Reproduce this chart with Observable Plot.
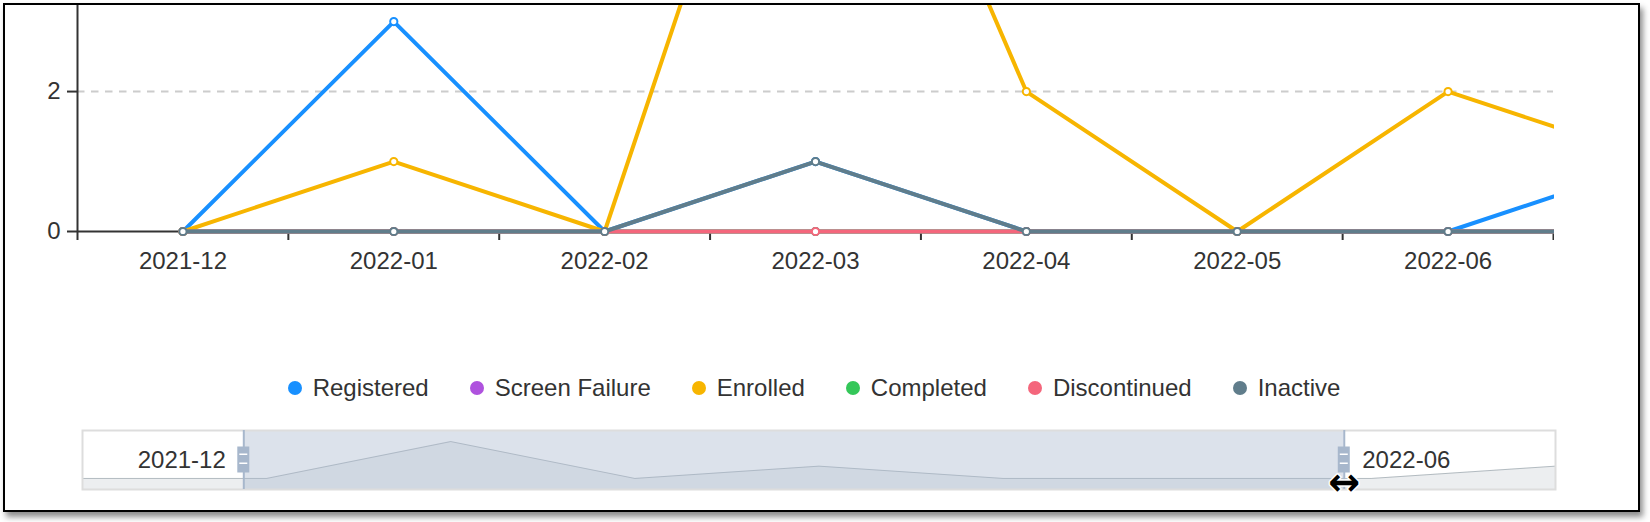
<!DOCTYPE html>
<html><head><meta charset="utf-8">
<script src="https://cdn.jsdelivr.net/npm/d3@7"></script>
<script src="https://cdn.jsdelivr.net/npm/@observablehq/plot@0.6"></script>
<style>
html,body{margin:0;padding:0;background:#fff;width:1650px;height:522px;overflow:hidden;font-family:"Liberation Sans",Arial,Helvetica,sans-serif;}
#frame{position:absolute;left:3px;top:3px;width:1637px;height:509px;box-sizing:border-box;border:2.5px solid #000;box-shadow:3px 5px 6px rgba(0,0,0,0.45);pointer-events:none;z-index:5;}
#main{position:absolute;left:0;top:0;}
#main svg{clip-path:inset(5px 96px 0 0);}
#slider{position:absolute;left:0;top:400px;}
#legend{position:absolute;left:0;top:374px;width:1628px;height:28px;display:flex;justify-content:center;align-items:center;font-size:24px;color:#333;white-space:nowrap;}
.item{display:flex;align-items:center;margin:0 20.5px;}
.dot{width:14px;height:14px;border-radius:50%;margin-right:11px;}
</style></head><body>
<div id="main"></div><div id="legend"></div><div id="slider"></div><div id="frame"></div>
<script>
// ---- data ----
const months = ["2021-11","2021-12","2022-01","2022-02","2022-03","2022-04","2022-05","2022-06","2022-07"];
const seriesNames = ["Registered","Screen Failure","Enrolled","Completed","Discontinued","Inactive"];
const seriesColors = ["#1890ff","#af52de","#f7b500","#34c759","#f4667c","#607d8b"];
const registered    = [0,0,3,0,1,0,0,0,1];
const screenFailure = [0,0,0,0,0,0,0,0,0];
const enrolled      = [0,0,1,0,9,2,0,2,1];
const completed     = [0,0,0,0,0,0,0,0,0];
const discontinued  = [0,0,0,0,0,0,0,0,0];
const inactive      = [0,0,0,0,1,0,0,0,0];
const yTicks = [0, 2];
const yVisibleMax = 3.23;          // top of the cropped value axis
const zoomStartPct = 10.95;        // dataZoom window (percent)
const zoomEndPct = 85.66;

const seriesValues = [registered, screenFailure, enrolled, completed, discontinued, inactive];
const nIdx = months.length - 1;
const startIdx = Math.round(zoomStartPct / 100 * nIdx);
const endIdx = Math.round(zoomEndPct / 100 * nIdx);
const axisMonths = months.slice(startIdx, endIdx + 1);

const rows = [];
seriesNames.forEach((name, s) => seriesValues[s].forEach((v, i) => {
  if (i >= startIdx) rows.push({series: name, pos: i - startIdx + 0.5, value: v});
}));

const FONT = "Liberation Sans, Arial, Helvetica, sans-serif";
const seriesMarks = [];
seriesNames.forEach((name, s) => {
  const d = rows.filter(r => r.series === name);
  seriesMarks.push(Plot.line(d, {x: "pos", y: "value", stroke: seriesColors[s], strokeWidth: 4, strokeLinejoin: "miter"}));
  seriesMarks.push(Plot.dot(d, {x: "pos", y: "value", r: 3.6, fill: "white", stroke: seriesColors[s], strokeWidth: 2}));
});

const main = Plot.plot({
  width: 1650, height: 280,
  marginLeft: 77, marginRight: 97, marginTop: 5, marginBottom: 49,
  x: {type: "linear", domain: [0, axisMonths.length], axis: null},
  y: {domain: [0, yVisibleMax], axis: null},
  style: {fontFamily: FONT, fontSize: "24px", color: "#333", background: "transparent"},
  marks: [
    Plot.ruleY(yTicks.filter(t => t > 0), {stroke: "#ccc", strokeWidth: 2, strokeDasharray: "7.5,6.5"}),
    Plot.axisY(yTicks, {tickSize: 10, tickPadding: 7, stroke: "#333", strokeWidth: 2, fill: "#333", fontSize: 24, label: null, tickFormat: d => String(d)}),
    Plot.axisX(d3.range(axisMonths.length + 1), {tickSize: 9, tickFormat: () => "", stroke: "#333", strokeWidth: 2, label: null}),
    Plot.axisX(axisMonths.map((m, i) => i + 0.5), {tickSize: 0, tickPadding: 20, tickFormat: d => axisMonths[Math.floor(d)], fill: "#333", fontSize: 24, label: null}),
    Plot.ruleX([0], {stroke: "#333", strokeWidth: 2}),
    Plot.ruleY([0], {stroke: "#333", strokeWidth: 2}),
    ...seriesMarks
  ]
});
document.getElementById("main").appendChild(main);

// ---- legend ----
const leg = document.getElementById("legend");
seriesNames.forEach((name, s) => {
  const it = document.createElement("div"); it.className = "item";
  const dt = document.createElement("span"); dt.className = "dot"; dt.style.background = seriesColors[s];
  const tx = document.createElement("span"); tx.textContent = name;
  it.appendChild(dt); it.appendChild(tx); leg.appendChild(it);
});

// ---- dataZoom slider ----
const shadow = registered.map((v, i) => ({i, v}));
const ext = d3.extent(registered);
const off = (ext[1] - ext[0]) * 0.3;
const shadowDomain = [ext[0] - off, ext[1] + off];
const win = {start: zoomStartPct / 100 * nIdx, end: zoomEndPct / 100 * nIdx};
const handles = [{v: win.start}, {v: win.end}];

const slider = Plot.plot({
  width: 1650, height: 100,
  marginLeft: 82, marginRight: 95, marginTop: 30, marginBottom: 11,
  x: {type: "linear", domain: [0, nIdx], axis: null},
  y: {domain: shadowDomain, axis: null},
  style: {fontFamily: FONT, fontSize: "24px", color: "#333", background: "transparent", overflow: "visible"},
  marks: [
    Plot.areaY(shadow, {x: "i", y1: shadowDomain[0], y2: "v", fill: "#2f4554", fillOpacity: 0.09}),
    Plot.lineY(shadow, {x: "i", y: "v", stroke: "#2f4554", strokeOpacity: 0.3, strokeWidth: 1}),
    Plot.rect([win], {x1: "start", x2: "end", fill: "#a7b7cc", fillOpacity: 0.4}),
    Plot.frame({stroke: "#ddd", strokeWidth: 2}),
    Plot.ruleX(handles, {x: "v", stroke: "#a7b7cc", strokeWidth: 2}),
    Plot.rect(handles, {x1: "v", x2: "v", insetLeft: -6, insetRight: -6, insetTop: 16.5, insetBottom: 16.5, fill: "#a7b7cc"}),
    Plot.rect(handles, {x1: "v", x2: "v", insetLeft: -4, insetRight: -4, insetTop: 23.5, insetBottom: 34, fill: "#fff"}),
    Plot.rect(handles, {x1: "v", x2: "v", insetLeft: -4, insetRight: -4, insetTop: 32.5, insetBottom: 25, fill: "#fff"}),
    Plot.text([win], {x: "start", text: () => months[startIdx], textAnchor: "end", dx: -18, frameAnchor: "middle", fill: "#333", fontSize: 24}),
    Plot.text([win], {x: "end", text: () => months[endIdx], textAnchor: "start", dx: 18, frameAnchor: "middle", fill: "#333", fontSize: 24}),
    Plot.text([win], {x: "end", text: () => "\u2194", frameAnchor: "bottom", dy: 5, fontSize: 38, fontWeight: "bold", fontFamily: "DejaVu Sans", fill: "#000", stroke: "#fff", strokeWidth: 3, paintOrder: "stroke"})
  ]
});
document.getElementById("slider").appendChild(slider);
</script>
</body></html>
